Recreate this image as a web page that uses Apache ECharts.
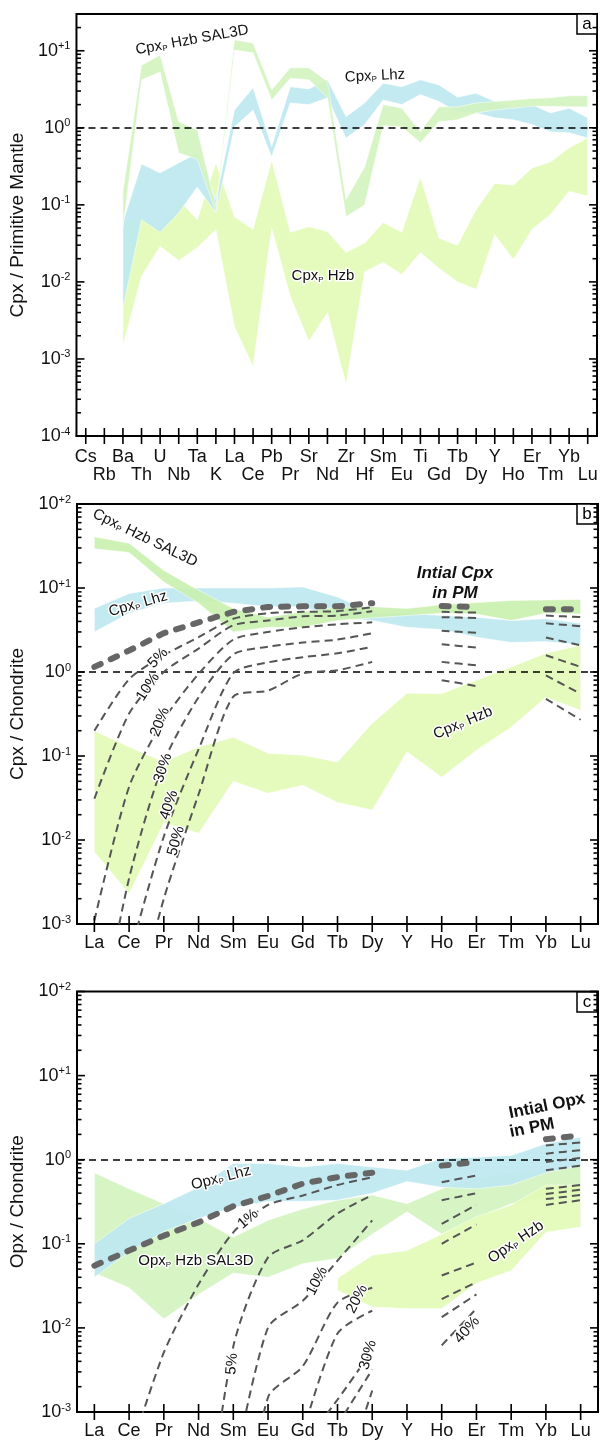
<!DOCTYPE html>
<html lang="en">
<head>
<meta charset="UTF-8">
<title>Cpx / Opx spider diagrams</title>
<script src="https://cdn.jsdelivr.net/npm/echarts@6/dist/echarts.min.js"></script>
<style>body{margin:0;background:#fff;}</style>
</head>
<body>
<div id="main" style="width:602px;height:1442px;"></div>
<script type="text/javascript">

// element order on the x axes
const pmElems = ['Cs','Rb','Ba','Th','U','Nb','Ta','K','La','Ce','Pb','Pr','Sr','Nd','Zr','Hf','Sm','Eu','Ti','Gd','Tb','Dy','Y','Ho','Er','Tm','Yb','Lu'];
const reeElems = ['La','Ce','Pr','Nd','Sm','Eu','Gd','Tb','Dy','Y','Ho','Er','Tm','Yb','Lu'];

// panel a : cpx / primitive mantle (upper and lower edge of each field)
const aHzbHi   = [null,null,0.06,0.07,0.048,0.117,0.064,0.35,0.07,0.048,0.38,0.044,0.052,0.045,0.024,0.032,0.059,0.044,0.23,0.037,0.030,0.087,0.19,0.18,0.30,0.36,0.55,0.74];
const aHzbLo   = [null,null,0.0015,0.0118,0.029,0.019,0.028,0.048,0.0026,0.0008,0.05,0.0065,0.0017,0.004,0.00047,0.0135,0.018,0.0125,0.024,0.015,0.010,0.008,0.041,0.0195,0.048,0.075,0.15,0.13];
const aLhzHi   = [null,null,0.06,0.34,0.26,0.35,0.47,0.117,1.7,3.3,0.57,3.4,3.2,4.2,1.39,2.1,3.8,3.4,4.2,3.6,2.5,2.8,2.2,1.87,2.0,1.56,1.8,1.35];
const aLhzLo   = [null,null,0.0045,0.064,0.044,0.079,0.17,0.079,1.03,1.7,0.42,2.1,2.0,2.45,0.74,1.1,2.3,2.0,2.7,2.2,1.6,1.56,1.35,1.27,1.1,0.89,0.86,0.74];
const aSalHi   = [null,null,0.15,6.5,8.8,1.2,0.94,0.095,13.8,12.6,3.1,6.0,6.0,4.0,0.117,0.31,2.0,1.8,0.89,1.87,1.87,2.1,2.2,2.3,2.4,2.45,2.6,2.6];
const aSalLo   = [null,null,0.05,4.2,5.3,0.47,0.39,0.08,10.2,9.4,2.3,4.4,4.2,2.5,0.07,0.1,1.07,1.03,0.64,1.2,1.27,1.56,1.7,1.8,1.9,1.9,1.87,1.87];

// panel b : cpx / chondrite
const bSalHi   = [40.7,34,16.2,9.4,5.7,4.5,5.2,5.9,6.0,5.7,6.3,6.7,7.1,7.2,7.3];
const bSalLo   = [29.4,26.5,11.8,6.6,3.0,3.4,3.4,4.1,4.4,4.7,5.0,4.9,4.1,5.0,4.9];
const bLhzHi   = [5.7,8.6,10,10,10,10,10.3,7.8,5.1,5.0,4.7,4.5,4.1,4.3,3.8];
const bLhzLo   = [3.0,5.0,6.6,7.0,6.6,6.0,6.0,4.4,4.1,3.4,3.2,2.6,2.25,2.3,2.1];
const bHzbHi   = [0.2,0.128,0.085,0.128,0.167,0.108,0.102,0.085,0.245,0.56,0.55,0.8,1.15,1.67,2.08];
const bHzbLo   = [0.0072,0.0023,0.016,0.012,0.05,0.036,0.045,0.028,0.0227,0.112,0.056,0.117,0.22,0.5,0.35];
const bInitial = [1.15,1.8,2.9,3.9,5.2,5.95,6.05,6.05,6.6,null,6.1,5.95,null,5.6,5.6];
const bMelt5   = [0.2,0.82,1.58,2.6,4.3,5.0,5.2,5.3,5.9,null,5.2,5.1,null,4.7,4.5];
const bMelt10  = [0.031,0.32,1.0,1.9,3.6,4.1,4.6,4.7,5.3,null,4.5,4.4,null,3.8,3.5];
const bMelt20  = [0.0011,0.043,0.27,0.95,2.43,3.0,3.4,3.7,3.9,null,3.1,2.94,null,2.57,2.08];
const bMelt30  = [0.00003,0.0035,0.085,0.5,1.62,2.0,2.24,2.43,2.9,null,2.14,1.95,null,1.58,1.15];
const bMelt40  = [0.00001,0.0004,0.011,0.12,0.97,1.3,1.5,1.67,2.0,null,1.32,1.2,null,0.91,0.55];
const bMelt50  = [null,0.00005,0.002,0.035,0.51,0.6,0.96,1.05,1.32,null,0.8,0.68,null,0.48,0.27];

// panel c : opx / chondrite
const cLhzHi   = [0.1,0.2,0.3,0.47,0.9,0.9,0.82,0.9,0.82,0.75,1.03,1.07,1.12,1.55,1.86];
const cLhzLo   = [0.04,0.08,0.14,0.2,0.27,0.32,0.32,0.33,0.4,0.55,0.47,0.45,0.5,0.7,0.85];
const cSalHi   = [0.7,0.45,0.3,0.2,0.12,0.19,0.26,0.33,0.38,0.3,0.45,0.6,0.7,0.75,0.85];
const cSalLo   = [0.045,0.03,0.0128,0.025,0.045,0.04,0.058,0.067,0.13,0.24,0.13,0.2,0.3,0.35,0.4];
const cHzbHi   = [null,null,null,null,null,null,null,0.039,0.073,0.083,0.13,0.21,0.29,0.5,0.5];
const cHzbLo   = [null,null,null,null,null,null,null,0.028,0.0177,0.017,0.017,0.034,0.048,0.137,0.158];
const cInitial = [0.055,0.083,0.125,0.18,0.28,0.37,0.52,0.62,0.7,null,0.85,0.94,null,1.75,1.95];
const cMelt1   = [null,0.0003,0.0051,0.033,0.137,0.29,0.375,0.5,0.62,null,0.54,0.65,null,1.48,1.6];
const cMelt5   = [null,null,null,0.00001,0.006,0.069,0.11,0.23,0.38,null,0.33,0.4,null,1.18,1.3];
const cMelt10  = [null,null,null,null,0.00018,0.0101,0.021,0.063,0.19,null,0.173,0.29,null,0.94,1.05];
const cMelt20  = [null,null,null,null,0.00001,0.0015,0.0035,0.02,0.03,null,0.1,0.17,null,0.75,0.85];
const cMelt25  = [null,null,null,null,null,null,0.00056,0.0086,0.016,null,0.042,0.06,null,0.45,0.5];
const cMelt30  = [null,null,null,null,null,null,0.0004,0.0014,0.0054,null,0.022,0.035,null,0.39,0.44];
const cMelt35  = [null,null,null,null,null,null,null,0.0007,0.0032,null,0.0134,0.025,null,0.34,0.38];
const cMelt40  = [null,null,null,null,null,null,null,0.0001,0.0018,null,0.0062,0.017,null,0.29,0.33];

const FONT = '"Liberation Sans",Arial,sans-serif';
const HZB = '#e2fbb6', LHZ = '#bde8f0', SAL = '#d3f3bf';

let chart = echarts.init(document.getElementById('main'));

// 10^n labels, nothing on the odd top value
function powLabel(v) {
    const l = Math.log10(v), e = Math.round(l);
    if (Math.abs(l - e) > 1e-6) return '';
    return '{b|10}{s|' + (e > 0 ? '+' + e : e) + '}';
}

function band(gi, lo, hi, color, z) {
    return {
        type: 'custom', xAxisIndex: gi, yAxisIndex: gi, z: z, silent: true,
        data: [[0, 1]],
        renderItem: function (params, api) {
            const runs = [];
            let cur = [];
            for (let i = 0; i < lo.length; i++) {
                if (lo[i] == null || hi[i] == null) { if (cur.length) runs.push(cur); cur = []; }
                else cur.push(i);
            }
            if (cur.length) runs.push(cur);
            return {
                type: 'group',
                children: runs.map(function (run) {
                    const top = run.map(i => api.coord([i, hi[i]]));
                    const bot = run.slice().reverse().map(i => api.coord([i, lo[i]]));
                    return {type: 'polygon', shape: {points: top.concat(bot)},
                        style: {fill: color, opacity: 0.9, stroke: 'rgba(255,255,255,0.7)', lineWidth: 0.8}};
                })
            };
        }
    };
}

function curve(gi, data, thick) {
    return {
        type: 'line', xAxisIndex: gi, yAxisIndex: gi, data: data, symbol: 'none',
        smooth: thick ? false : 0.25, z: thick ? 7 : 6, silent: true,
        lineStyle: thick ? {color: '#666', width: 6, type: [7, 11], cap: 'round'}
                         : {color: '#555', width: 2, type: [8, 5]}
    };
}

function unitLine(gi) {
    return {
        type: 'line', xAxisIndex: gi, yAxisIndex: gi, data: [], z: 8,
        markLine: {silent: true, symbol: 'none', label: {show: false}, animation: false,
            lineStyle: {color: '#000', width: 1.5, type: [7, 5]}, data: [{yAxis: 1}]}
    };
}

// tick marks: x ticks crossing the bottom axis, log ticks inside on both sides
function frameTicks(gi, nCat, yMin, yMax) {
    const marks = [];
    for (let i = 0; i < nCat; i++) marks.push({k: 'x', v: i});
    for (let e = Math.floor(Math.log10(yMin)); e <= Math.ceil(Math.log10(yMax)); e++) {
        for (let m = 1; m <= 9; m++) {
            const v = m * Math.pow(10, e);
            if (v >= yMin * 0.999 && v <= yMax * 1.001) marks.push({k: m === 1 ? 'M' : 'm', v: v});
        }
    }
    return {
        type: 'custom', xAxisIndex: gi, yAxisIndex: gi, z: 10, silent: true,
        data: marks.map(() => [0, 1]),
        renderItem: function (params, api) {
            const mk = marks[params.dataIndex];
            const cs = params.coordSys;
            const st = {stroke: '#000', lineWidth: 1.6};
            if (mk.k === 'x') {
                const x = api.coord([mk.v, 1])[0];
                const yb = cs.y + cs.height;
                return {type: 'line', shape: {x1: x, y1: yb - 8, x2: x, y2: yb + 8}, style: st};
            }
            const y = api.coord([0, mk.v])[1];
            const len = mk.k === 'M' ? 8 : 4.5;
            return {type: 'group', children: [
                {type: 'line', shape: {x1: cs.x, y1: y, x2: cs.x + len, y2: y}, style: st},
                {type: 'line', shape: {x1: cs.x + cs.width, y1: y, x2: cs.x + cs.width - len, y2: y}, style: st}
            ]};
        }
    };
}

function yAx(gi, min, max, name, gap) {
    return {
        type: 'log', logBase: 10, gridIndex: gi, min: min, max: max,
        name: name, nameLocation: 'middle', nameGap: gap,
        nameTextStyle: {fontSize: 19, fontFamily: FONT, color: '#111'},
        axisLine: {show: false}, axisTick: {show: false}, splitLine: {show: false},
        axisLabel: {formatter: powLabel, margin: 6, color: '#111',
            rich: {b: {fontSize: 18, fontFamily: FONT, lineHeight: 20},
                   s: {fontSize: 11, fontFamily: FONT, lineHeight: 11, verticalAlign: 'top'}}}
    };
}

function xAx(gi, cats, twoRows) {
    return {
        type: 'category', gridIndex: gi, data: cats, boundaryGap: true,
        axisLine: {show: true, lineStyle: {color: '#000', width: 2}},
        axisTick: {show: false}, splitLine: {show: false},
        axisLabel: {interval: 0, color: '#111', fontSize: 18, fontFamily: FONT,
            margin: twoRows ? 12 : 10, lineHeight: 18,
            formatter: twoRows ? function (v, i) { return i % 2 ? '\n' + v : v; } : '{value}'}
    };
}

// annotation text, with a white halo
function note(x, y, text, rot, extra) {
    return {
        type: 'text', x: x, y: y, rotation: rot || 0, z: 20, silent: true,
        style: Object.assign({
            text: text, align: 'center', verticalAlign: 'middle',
            fontSize: 15, fontFamily: FONT, fill: '#111', stroke: '#fff', lineWidth: 3,
            rich: {n: {fontSize: 15, fontFamily: FONT}, p: {fontSize: 8, fontFamily: FONT, verticalAlign: 'bottom', lineHeight: 8}}
        }, extra || {})
    };
}

function panelTag(x, y, t) {
    return {type: 'group', x: x, y: y, z: 20, children: [
        {type: 'rect', shape: {x: 0, y: 0, width: 20, height: 20}, style: {fill: '#fff', stroke: '#000', lineWidth: 1.5}},
        {type: 'text', x: 10, y: 10, style: {text: t, align: 'center', verticalAlign: 'middle', fontSize: 17, fontFamily: FONT, fill: '#000'}}
    ]};
}

let option = {
    animation: false,
    backgroundColor: '#fff',
    grid: [
        {left: 73, top: 14, width: 524, height: 422, show: true, borderColor: '#000', borderWidth: 2},
        {left: 77, top: 504, width: 521, height: 420, show: true, borderColor: '#000', borderWidth: 2},
        {left: 77, top: 991.5, width: 521, height: 420.5, show: true, borderColor: '#000', borderWidth: 2}
    ],
    xAxis: [xAx(0, pmElems, true), xAx(1, reeElems, false), xAx(2, reeElems, false)],
    yAxis: [
        yAx(0, 1e-4, 30, 'Cpx / Primitive Mantle', 38),
        yAx(1, 1e-3, 100, 'Cpx / Chondrite', 44),
        yAx(2, 1e-3, 100, 'Opx / Chondrite', 44)
    ],
    series: [
        // a
        band(0, aHzbLo, aHzbHi, HZB, 1),
        band(0, aLhzLo, aLhzHi, LHZ, 2),
        band(0, aSalLo, aSalHi, SAL, 3),
        unitLine(0),
        frameTicks(0, pmElems.length, 1e-4, 30),
        // b
        band(1, bHzbLo, bHzbHi, HZB, 1),
        band(1, bLhzLo, bLhzHi, LHZ, 2),
        band(1, bSalLo, bSalHi, '#c9efae', 3),
        curve(1, bMelt5), curve(1, bMelt10), curve(1, bMelt20),
        curve(1, bMelt30), curve(1, bMelt40), curve(1, bMelt50),
        curve(1, bInitial, true),
        unitLine(1),
        frameTicks(1, reeElems.length, 1e-3, 100),
        // c
        band(2, cSalLo, cSalHi, SAL, 1),
        band(2, cHzbLo, cHzbHi, HZB, 2),
        band(2, cLhzLo, cLhzHi, LHZ, 3),
        curve(2, cMelt1), curve(2, cMelt5), curve(2, cMelt10), curve(2, cMelt20),
        curve(2, cMelt25), curve(2, cMelt30), curve(2, cMelt35), curve(2, cMelt40),
        curve(2, cInitial, true),
        unitLine(2),
        frameTicks(2, reeElems.length, 1e-3, 100)
    ],
    graphic: [
        panelTag(577, 14, 'a'),
        note(192, 40, '{n|Cpx}{p|P}{n| Hzb SAL3D}', 0.18),
        note(375, 76, '{n|Cpx}{p|P}{n| Lhz}', 0.05),
        note(323, 276, '{n|Cpx}{p|P}{n| Hzb}', 0),

        panelTag(577, 504, 'b'),
        note(145, 538, '{n|Cpx}{p|P}{n| Hzb SAL3D}', -0.45),
        note(138, 604, '{n|Cpx}{p|P}{n| Lhz}', 0.28),
        note(463, 723, '{n|Cpx}{p|P}{n| Hzb}', 0.4),
        note(455, 573, 'Intial Cpx', 0, {fontSize: 17, fontWeight: 'bold', fontStyle: 'italic', lineWidth: 0}),
        note(455, 593, 'in PM', 0, {fontSize: 17, fontWeight: 'bold', fontStyle: 'italic', lineWidth: 0}),
        note(158, 658, '5%', 0.8), note(148, 687, '10%', 1.0), note(160, 722, '20%', 1.2),
        note(163, 768, '30%', 1.25), note(169, 805, '40%', 1.25), note(176, 841, '50%', 1.3),

        panelTag(577, 992, 'c'),
        note(221, 1178, '{n|Opx}{p|P}{n| Lhz}', 0.25),
        note(196, 1261, '{n|Opx}{p|P}{n| Hzb SAL3D}', 0),
        note(516, 1242, '{n|Opx}{p|P}{n| Hzb}', 0.6),
        note(547, 1106, 'Intial Opx', 0.2, {fontSize: 17, fontWeight: 'bold', lineWidth: 0}),
        note(532, 1128, 'in PM', 0.2, {fontSize: 17, fontWeight: 'bold', lineWidth: 0}),
        note(248, 1219, '1%', 0.7), note(232, 1364, '5%', 1.5), note(317, 1281, '10%', 1.1),
        note(357, 1299, '20%', 1.1), note(368, 1355, '30%', 1.3), note(467, 1330, '40%', 0.85)
    ]
};

chart.setOption(option);
</script>
</body>
</html>
